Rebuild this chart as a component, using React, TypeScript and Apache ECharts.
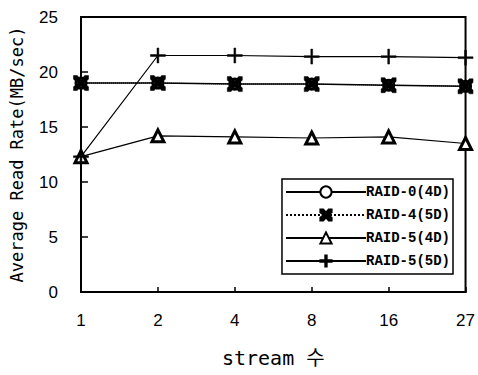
import React, { useEffect, useRef } from "react";
import * as echarts from "echarts";

const categories = ["1", "2", "4", "8", "16", "27"];
const raid0_4d = [19.0, 19.0, 18.9, 18.9, 18.8, 18.7];
const raid4_5d = [19.0, 19.0, 18.9, 18.9, 18.8, 18.7];
const raid5_4d = [12.3, 14.2, 14.1, 14.0, 14.1, 13.5];
const raid5_5d = [12.3, 21.5, 21.5, 21.4, 21.4, 21.3];
const yTicks = [0, 5, 10, 15, 20, 25];

const X_PATH =
  "path://M0,0 L2.5,0 L5,3 L7.5,0 L10,0 L10,2.5 L7,5 L10,7.5 L10,10 L7.5,10 L5,7 L2.5,10 L0,10 L0,7.5 L3,5 L0,2.5 Z";
const PLUS_PATH =
  "path://M4.4,0 H5.6 V4.4 H10 V5.6 H5.6 V10 H4.4 V5.6 H0 V4.4 H4.4 Z";

export default function App() {
  const ref = useRef<HTMLDivElement>(null);
  useEffect(() => {
    if (!ref.current) return;
    const chart = echarts.init(ref.current, null, { renderer: "svg" });
    const mono = "'DejaVu Sans Mono', 'Noto Sans CJK KR', monospace";
    chart.setOption({
      animation: false,
      backgroundColor: "#fff",
      grid: {
        left: 77,
        right: 10,
        top: 17,
        bottom: 83,
        show: true,
        borderColor: "#000",
        borderWidth: 2,
      },
      legend: {
        orient: "vertical",
        right: 25,
        top: 179,
        itemWidth: 80,
        itemHeight: 14,
        itemGap: 9,
        padding: [6, 3, 6, 3],
        borderColor: "#000",
        borderWidth: 1.5,
        backgroundColor: "#fff",
        textStyle: {
          fontFamily: "'Liberation Mono', 'DejaVu Sans Mono', monospace",
          fontSize: 14,
          fontWeight: "bold",
          color: "#000",
          padding: [0, 0, 0, -5],
        },
        data: ["RAID-0(4D)", "RAID-4(5D)", "RAID-5(4D)", "RAID-5(5D)"],
      },
      xAxis: {
        type: "category",
        data: categories,
        boundaryGap: false,
        name: "stream 수",
        nameLocation: "middle",
        nameGap: 56,
        nameTextStyle: {
          fontFamily: mono,
          fontSize: 20,
          color: "#000",
        },
        axisLine: { lineStyle: { color: "#000", width: 2 } },
        axisTick: { inside: true, length: 5, lineStyle: { color: "#000", width: 1.5 } },
        axisLabel: {
          fontFamily: "'Liberation Sans', Arial, sans-serif",
          fontSize: 17,
          color: "#000",
          margin: 20,
        },
        splitLine: { show: false },
      },
      yAxis: {
        type: "value",
        min: yTicks[0],
        max: yTicks[yTicks.length - 1],
        interval: 5,
        name: "Average Read Rate(MB/sec)",
        nameLocation: "middle",
        nameGap: 56,
        nameTextStyle: {
          fontFamily: mono,
          fontSize: 17,
          color: "#000",
        },
        axisLine: { show: true, lineStyle: { color: "#000", width: 2 } },
        axisTick: { show: true, inside: true, length: 7, lineStyle: { color: "#000", width: 1.5 } },
        axisLabel: {
          fontFamily: "'Liberation Sans', Arial, sans-serif",
          fontSize: 17,
          color: "#000",
          margin: 23,
        },
        splitLine: { show: false },
      },
      series: [
        {
          name: "RAID-0(4D)",
          type: "line",
          data: raid0_4d,
          symbol: "circle",
          symbolSize: 10,
          lineStyle: { color: "#000", width: 1.5, type: "solid" },
          itemStyle: { color: "#fff", borderColor: "#000", borderWidth: 3 },
          z: 3,
        },
        {
          name: "RAID-4(5D)",
          type: "line",
          data: raid4_5d,
          symbol: X_PATH,
          symbolSize: 15,
          lineStyle: { color: "#000", width: 1, type: "dotted" },
          itemStyle: { color: "#000", borderColor: "#000", borderWidth: 0.5 },
          z: 4,
        },
        {
          name: "RAID-5(4D)",
          type: "line",
          data: raid5_4d,
          symbol: "triangle",
          symbolSize: 12,
          lineStyle: { color: "#000", width: 1.2, type: "solid" },
          itemStyle: { color: "#fff", borderColor: "#000", borderWidth: 3 },
          z: 3,
        },
        {
          name: "RAID-5(5D)",
          type: "line",
          data: raid5_5d,
          symbol: PLUS_PATH,
          symbolSize: 15,
          lineStyle: { color: "#000", width: 1.2, type: "solid" },
          itemStyle: { color: "#000", borderColor: "#000", borderWidth: 0.5 },
          z: 3,
        },
      ],
    });
    return () => chart.dispose();
  }, []);
  return (
    <div
      ref={ref}
      style={{ position: "fixed", left: 0, top: 0, width: 478, height: 375 }}
    />
  );
}
